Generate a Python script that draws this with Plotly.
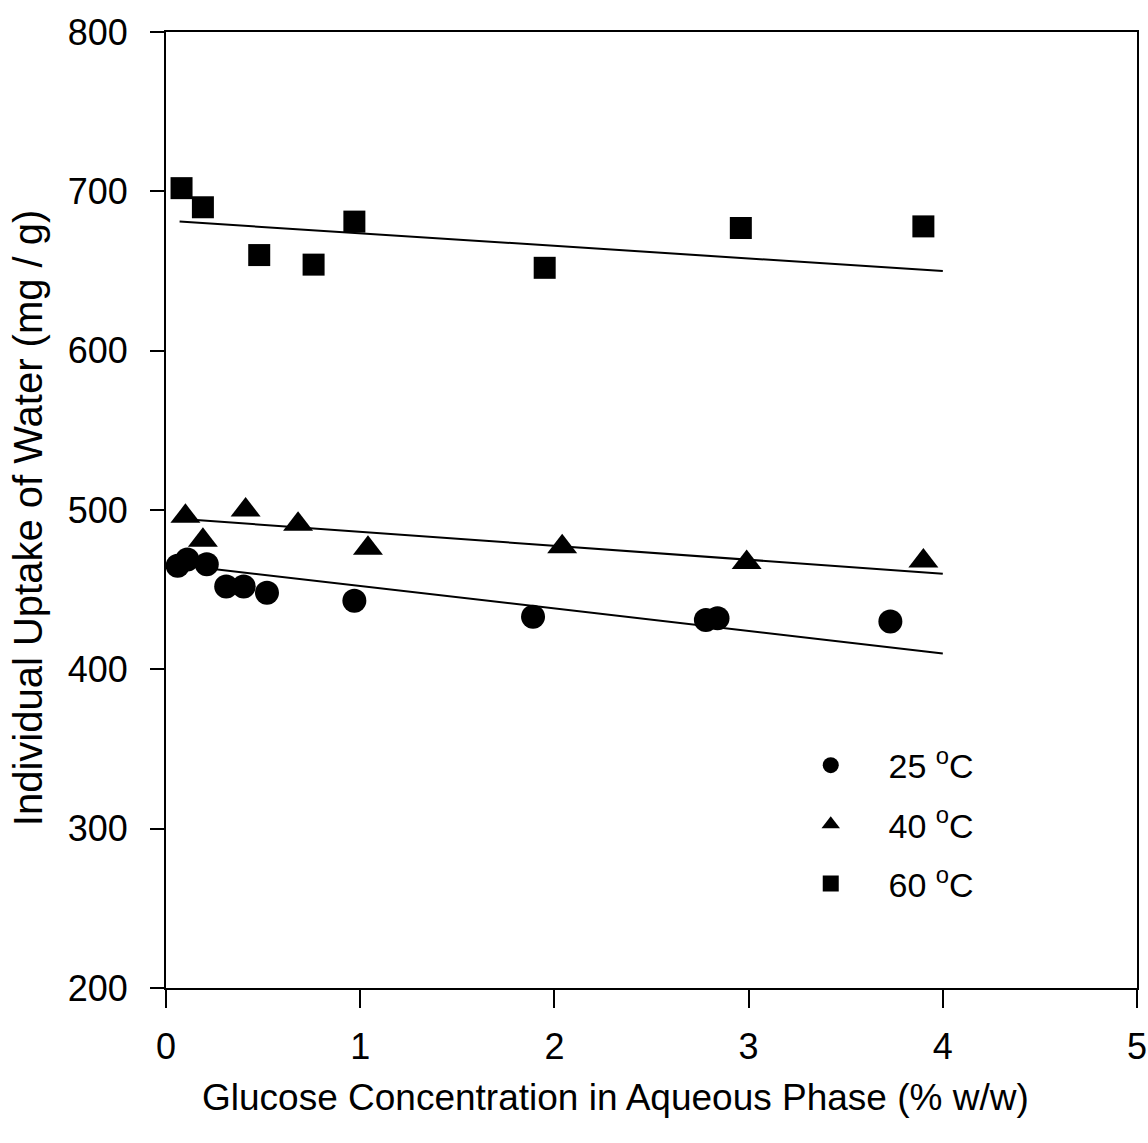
import plotly.graph_objects as go

# ---- data ----
x25 = [0.06, 0.11, 0.21, 0.31, 0.40, 0.52, 0.97, 1.89, 2.78, 2.84, 3.73]
y25 = [465, 469, 466, 452, 452, 448, 443, 433, 431, 432, 430]

x40 = [0.10, 0.19, 0.41, 0.68, 1.04, 2.04, 2.99, 3.90]
y40 = [496, 481, 500, 491, 476, 477, 467, 468]

x60 = [0.08, 0.19, 0.48, 0.76, 0.97, 1.95, 2.96, 3.90]
y60 = [702, 690, 660, 654, 681, 652, 677, 678]

# fitted lines (end points as drawn)
fit25_x = [0.10, 4.00]
fit25_y = [465, 410]
fit40_x = [0.12, 4.00]
fit40_y = [494, 460]
fit60_x = [0.07, 4.00]
fit60_y = [681, 650]

labels = ["25 <sup>o</sup>C", "40 <sup>o</sup>C", "60 <sup>o</sup>C"]

x_ticks = [0, 1, 2, 3, 4, 5]
y_ticks = [200, 300, 400, 500, 600, 700, 800]

x_title = "Glucose Concentration in Aqueous Phase (% w/w)"
y_title = "Individual Uptake of Water (mg / g)"

FONT = "Liberation Sans, Arial, sans-serif"
pad = "\u00a0" * 4

fig = go.Figure()
for fx, fy in [(fit25_x, fit25_y), (fit40_x, fit40_y), (fit60_x, fit60_y)]:
    fig.add_trace(go.Scatter(x=fx, y=fy, mode="lines", line=dict(color="black", width=2),
                             showlegend=False, hoverinfo="skip"))

series = [(x25, y25, "circle", 24), (x40, y40, "triangle-up", 26), (x60, y60, "square", 22)]
for i, (sx, sy, sym, sz) in enumerate(series):
    fig.add_trace(go.Scatter(x=sx, y=sy, mode="markers", name=pad + labels[i],
                             legendgroup=str(i),
                             marker=dict(symbol=sym, size=sz, color="black", line=dict(width=0))))

axis_common = dict(showline=True, linecolor="black", linewidth=2, mirror=True,
                   showgrid=False, zeroline=False, ticks="outside", tickcolor="black",
                   tickwidth=2, automargin=False,
                   tickfont=dict(family=FONT, size=36, color="black"))

fig.update_xaxes(range=[0, 5], tickvals=x_ticks, ticklen=18, ticklabelstandoff=8,
                 **axis_common)
fig.update_yaxes(range=[200, 800], tickvals=y_ticks, ticklen=14, ticklabelstandoff=15,
                 **axis_common)

fig.add_annotation(text=x_title, xref="paper", yref="paper", x=0.4634, y=-0.115,
                   xanchor="center", yanchor="middle", showarrow=False,
                   font=dict(family=FONT, size=37, color="black"))
fig.add_annotation(text=y_title, xref="paper", yref="paper", x=-0.142, y=0.4916,
                   xanchor="center", yanchor="middle", showarrow=False, textangle=-90,
                   font=dict(family=FONT, size=40, color="black"))

fig.update_layout(
    width=1148, height=1143,
    margin=dict(l=166, r=11, t=32, b=155),
    paper_bgcolor="white", plot_bgcolor="white",
    font=dict(family=FONT, color="black"),
    legend=dict(x=0.664, y=0.263, xanchor="left", yanchor="top",
                font=dict(family=FONT, size=34, color="black"),
                bgcolor="rgba(0,0,0,0)", tracegroupgap=12, itemsizing="trace"),
)

fig.write_html("out.html")
